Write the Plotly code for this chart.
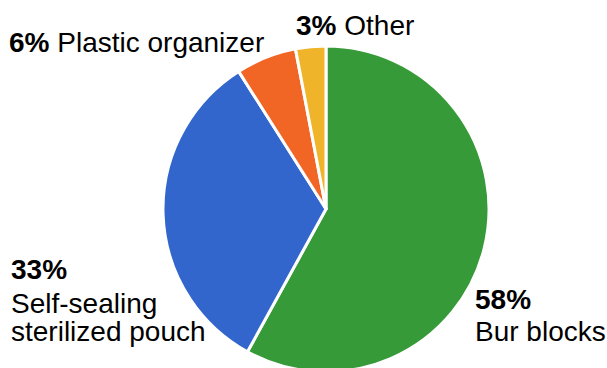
import plotly.graph_objects as go

labels = ["Bur blocks", "Self-sealing sterilized pouch", "Plastic organizer", "Other"]
values = [58, 33, 6, 3]
colors = ["#359a37", "#3366cc", "#f26625", "#f0b42b"]

W, H = 607, 390
FS = 28
FONT = "Liberation Sans, Arial, sans-serif"

def px(x):
    return x / W

def py(y):
    return 1 - y / H

cx, cy, r = 326, 209, 163

fig = go.Figure(go.Pie(
    labels=labels,
    values=values,
    sort=False,
    direction="clockwise",
    rotation=0,
    marker=dict(colors=colors, line=dict(color="white", width=3)),
    textinfo="none",
    hoverinfo="label+percent",
    domain=dict(x=[px(cx - r), px(cx + r)], y=[py(cy + r), py(cy - r)]),
    showlegend=False,
))

# label text lines: (text, left x px, center y px)
pct = [f"<b>{v}%</b>" for v in values]
label_lines = [
    (pct[0], 474, 299),
    (labels[0], 474, 331),
    (pct[1], 10, 269),
    ("Self-sealing", 10, 303),
    ("sterilized pouch", 10, 331),
    (pct[2] + " " + labels[2], 8, 42),
    (pct[3] + " " + labels[3], 295, 26),
]

annotations = []
for text, x, y in label_lines:
    annotations.append(dict(
        text=text, x=px(x), y=py(y), xref="paper", yref="paper",
        xanchor="left", yanchor="middle", showarrow=False,
        font=dict(size=FS, color="#000000", family=FONT),
        borderpad=0,
    ))

fig.update_layout(
    width=W, height=H,
    margin=dict(l=0, r=0, t=0, b=0),
    paper_bgcolor="white",
    plot_bgcolor="white",
    annotations=annotations,
    font=dict(family=FONT),
)

fig.write_html("out.html", config={"displayModeBar": False})
